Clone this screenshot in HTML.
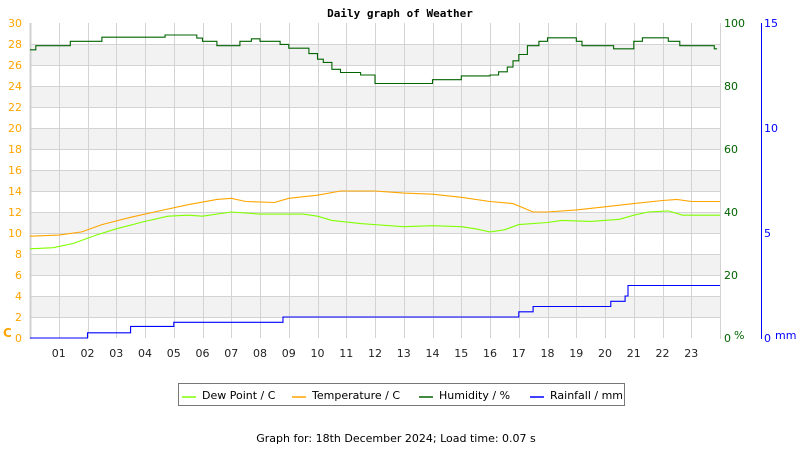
<!DOCTYPE html>
<html><head><meta charset="utf-8"><style>
html,body{margin:0;padding:0;background:#fff;}
svg{display:block;font-family:"DejaVu Sans","Liberation Sans",sans-serif;}
</style></head><body>
<svg id="s" width="800" height="450" xmlns="http://www.w3.org/2000/svg">
<rect width="800" height="450" fill="#fff"/>
<g id="bands"></g>
<g id="grid" stroke="#d3d3d3" stroke-width="1"></g>
<line x1="30.5" y1="23" x2="30.5" y2="339" stroke="#d0d0d0" stroke-width="2"/>
<line x1="720.5" y1="23" x2="720.5" y2="339" stroke="#d3d3d3"/>
<line x1="761.5" y1="23" x2="761.5" y2="339" stroke="#0000ff"/>
<g id="lines" fill="none" stroke-width="1.1"></g>
<g id="labels" font-size="11"></g>
<text x="400" y="17" font-size="11" font-weight="bold" font-family="DejaVu Sans Mono,monospace" text-anchor="middle">Daily graph of Weather</text>
<text x="3" y="337" font-size="12" font-weight="bold" fill="#ffa500">C</text>
<text x="734" y="339" font-size="11" fill="#006400">%</text>
<text x="775" y="339" font-size="11" fill="#0000ff">mm</text>
<rect x="178.5" y="383.5" width="446" height="22" fill="#fff" stroke="#777"/>
<g font-size="11">
<line x1="182" y1="397" x2="196" y2="397" stroke="#7fff00" stroke-width="1.5"/><text x="202" y="399">Dew Point / C</text>
<line x1="292" y1="397" x2="306" y2="397" stroke="#ffa500" stroke-width="1.5"/><text x="312" y="399">Temperature / C</text>
<line x1="419" y1="397" x2="433" y2="397" stroke="#006400" stroke-width="1.5"/><text x="439" y="399">Humidity / %</text>
<line x1="530" y1="397" x2="544" y2="397" stroke="#0000ff" stroke-width="1.5"/><text x="550" y="399">Rainfall / mm</text>
</g>
<text x="396" y="442" font-size="11" text-anchor="middle">Graph for: 18th December 2024; Load time: 0.07 s</text>
</svg>
<script>
const NS="http://www.w3.org/2000/svg";
function el(p,t,a,txt){const e=document.createElementNS(NS,t);for(const k in a)e.setAttribute(k,a[k]);if(txt!=null)e.textContent=txt;document.getElementById(p).appendChild(e);return e;}
const X=h=>30+h*28.75, YC=t=>338-10.5*t, YH=h=>338-3.15*h, YR=r=>338-21*r;
for(let v=2;v<28;v+=4) el('bands','rect',{x:31,y:YC(v+2),width:689,height:21,fill:'#f2f2f2'});
for(let v=2;v<=28;v+=2) el('grid','line',{x1:31,x2:720,y1:YC(v)+.5,y2:YC(v)+.5});
for(let h=1;h<24;h++) el('grid','line',{x1:Math.round(X(h))+.5,x2:Math.round(X(h))+.5,y1:23,y2:338});
for(let v=0;v<=30;v+=2) el('labels','text',{x:22,y:YC(v)+4,'text-anchor':'end',fill:'#ffa500'},v);
for(let v=0;v<=100;v+=20) el('labels','text',{x:724,y:YH(v)+4,fill:'#006400'},v);
for(let v=0;v<=15;v+=5) el('labels','text',{x:764,y:YR(v)+4,fill:'#0000ff'},v);
for(let h=1;h<24;h++) el('labels','text',{x:X(h),y:357,'text-anchor':'middle',fill:'#222'},(h<10?'0':'')+h);
function lin(pts,Y,c){el('lines','polyline',{points:pts.map(p=>X(p[0]).toFixed(1)+','+Y(p[1]).toFixed(1)).join(' '),stroke:c});}
function step(pts,Y,c){let o=[];for(let i=0;i<pts.length;i++){if(i>0)o.push([pts[i][0],pts[i-1][1]]);o.push(pts[i]);}lin(o,Y,c);}
lin([[0,9.7],[1,9.8],[1.8,10.1],[2.5,10.8],[3.5,11.5],[4.5,12.1],[5.5,12.7],[6.5,13.2],[7,13.3],[7.5,13],[8.5,12.9],[9,13.3],[10,13.6],[10.8,14],[12,14],[13,13.8],[14,13.7],[15,13.4],[16,13],[16.8,12.8],[17.5,12],[18,12],[19,12.2],[20,12.5],[21,12.8],[22,13.1],[22.5,13.2],[23,13],[24,13]],YC,'#ffa500');
lin([[0,8.5],[0.8,8.6],[1.5,9],[2.3,9.8],[3,10.4],[4,11.1],[4.8,11.6],[5.5,11.7],[6,11.6],[7,12],[8,11.8],[9.5,11.8],[10,11.6],[10.5,11.2],[11.5,10.9],[13,10.6],[14,10.7],[15,10.6],[15.5,10.4],[16,10.1],[16.5,10.3],[17,10.8],[18,11],[18.5,11.2],[19.5,11.1],[20.5,11.3],[21,11.7],[21.5,12],[22.2,12.1],[22.7,11.7],[24,11.7]],YC,'#7fff00');
step([[0,91.5],[0.2,92.8],[1,92.8],[1.4,94.2],[2,94.2],[2.5,95.5],[4,95.5],[4.7,96.2],[5.5,96.2],[5.8,95.2],[6,94.2],[6.5,92.8],[7,92.8],[7.3,94.2],[7.7,95],[8,94.2],[8.7,93.2],[9,92],[9.7,90.3],[10,88.5],[10.2,87.5],[10.5,85.3],[10.8,84.3],[11.5,83.5],[12,80.8],[13.5,80.8],[14,82],[15,83.2],[16,83.5],[16.3,84.5],[16.6,86],[16.8,88],[17,90],[17.3,92.8],[17.7,94.2],[18,95.3],[19,94.2],[19.2,92.8],[20,92.8],[20.3,91.8],[21,94.2],[21.3,95.3],[22.2,94.2],[22.6,92.8],[23.8,91.8],[23.9,91.8]],YH,'#006400');
step([[0,0],[2,0.25],[3.5,0.55],[5,0.75],[8.8,1.0],[17,1.25],[17.5,1.5],[20.2,1.75],[20.7,2.0],[20.8,2.5],[24,2.5]],YR,'#0000ff');
</script>
</body></html>
